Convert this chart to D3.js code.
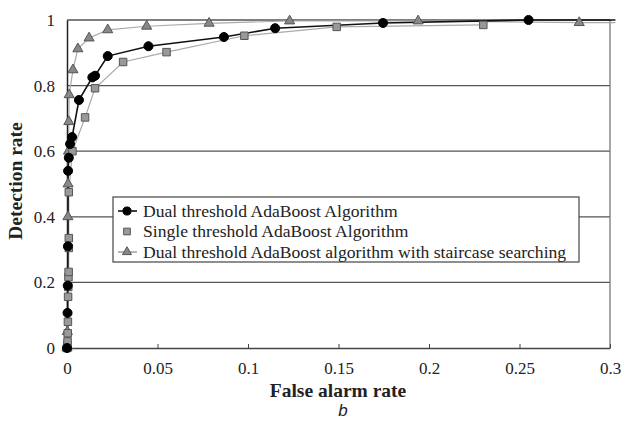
<!DOCTYPE html>
<html>
<head>
<meta charset="utf-8">
<script src="https://cdn.jsdelivr.net/npm/d3@7"></script>
<style>
  body { margin: 0; background: #fff; }
  text { font-family: "Liberation Serif", "Times New Roman", serif; fill: #222; }
</style>
</head>
<body>
<div id="chart"></div>
<script>
// Chart data
var seriesNames = ["Dual threshold AdaBoost Algorithm",
                   "Single threshold AdaBoost Algorithm",
                   "Dual threshold AdaBoost algorithm with staircase searching"];

var dualX = [0, 0.0003, 0.0004, 0.0005, 0.0006, 0.001, 0.0017, 0.0028, 0.0066, 0.014, 0.0155, 0.0225, 0.045, 0.0867, 0.115, 0.1746, 0.255, 0.303];
var dualY = [0, 0.107, 0.19, 0.31, 0.54, 0.58, 0.622, 0.643, 0.756, 0.825, 0.83, 0.89, 0.92, 0.948, 0.975, 0.991, 1.0, 1.0];

var singleX = [0, 0.0002, 0.0003, 0.0004, 0.0005, 0.0006, 0.0007, 0.0008, 0.0009, 0.001, 0.001, 0.001, 0.003, 0.01, 0.0155, 0.031, 0.055, 0.098, 0.149, 0.230];
var singleY = [0, 0.01, 0.02, 0.045, 0.08, 0.156, 0.186, 0.216, 0.232, 0.305, 0.335, 0.475, 0.6, 0.703, 0.792, 0.872, 0.902, 0.952, 0.979, 0.985];

var stairX = [0, 0.0002, 0.0005, 0.0006, 0.0008, 0.001, 0.0012, 0.0033, 0.006, 0.0122, 0.0225, 0.044, 0.0785, 0.123, 0.194, 0.283, 0.303];
var stairY = [0, 0.05, 0.4, 0.5, 0.6, 0.69, 0.772, 0.848, 0.912, 0.945, 0.97, 0.981, 0.99, 0.997, 0.997, 0.992, 0.992];

var xTicks = [0, 0.05, 0.1, 0.15, 0.2, 0.25, 0.3];
var yTicks = [0, 0.2, 0.4, 0.6, 0.8, 1];

var width = 626, height = 421;
var plot = { left: 67, right: 610, top: 20, bottom: 348 };

var svg = d3.select("#chart").append("svg")
    .attr("width", width)
    .attr("height", height);

var x = d3.scaleLinear().domain([0, 0.3]).range([plot.left, plot.right]);
var y = d3.scaleLinear().domain([0, 1]).range([plot.bottom, plot.top]);
var fmt = d => String(+d.toFixed(2));

// Gridlines
svg.append("g").selectAll("line")
    .data(yTicks.filter(d => d > 0))
    .enter().append("line")
    .attr("x1", plot.left).attr("x2", plot.right)
    .attr("y1", d => y(d)).attr("y2", d => y(d))
    .style("stroke", "#555")
    .style("stroke-width", 1.3);

// Right border of plot area
svg.append("line")
    .attr("x1", plot.right).attr("x2", plot.right)
    .attr("y1", plot.top).attr("y2", plot.bottom)
    .style("stroke", "#777").style("stroke-width", 1.3);

// X axis
var xAxis = svg.append("g")
    .attr("transform", "translate(0," + plot.bottom + ")")
    .call(d3.axisBottom(x).tickValues(xTicks).tickSizeInner(-4).tickSizeOuter(0).tickPadding(12).tickFormat(fmt));
xAxis.select(".domain").style("stroke", "#444").style("stroke-width", 1.3);
xAxis.selectAll(".tick line").style("stroke", "#444");
xAxis.selectAll("text").style("font-size", "17px").attr("dy", "0.85em");

// Y axis
var yAxis = svg.append("g")
    .attr("transform", "translate(" + plot.left + ",0)")
    .call(d3.axisLeft(y).tickValues(yTicks).tickSize(0).tickPadding(12).tickFormat(fmt));
yAxis.select(".domain").style("stroke", "#222").style("stroke-width", 1.5);
yAxis.selectAll("text").style("font-size", "17px");

// Axis titles
svg.append("text")
    .attr("x", 338)
    .attr("y", 397)
    .attr("text-anchor", "middle")
    .style("font-size", "19.5px")
    .style("font-weight", "bold")
    .text("False alarm rate");

svg.append("text")
    .attr("transform", "translate(22,181) rotate(-90)")
    .attr("text-anchor", "middle")
    .style("font-size", "19.5px")
    .style("font-weight", "bold")
    .text("Detection rate");

svg.append("text")
    .attr("x", 343)
    .attr("y", 416)
    .attr("text-anchor", "middle")
    .style("font-family", "'Liberation Sans', Arial, sans-serif")
    .style("font-style", "italic")
    .style("font-size", "17px")
    .text("b");

// Series
var zip = (xs, ys) => xs.map((v, i) => ({ x: v, y: ys[i] }));
var series = [
    { data: zip(dualX, dualY), line: "#111", lw: 1.6, shape: "circle", fill: "#000", stroke: "#000" },
    { data: zip(singleX, singleY), line: "#aaa", lw: 1.2, shape: "square", fill: "#999", stroke: "#555" },
    { data: zip(stairX, stairY), line: "#aaa", lw: 1.2, shape: "triangle", fill: "#888", stroke: "#555" }
];

var lineGen = d3.line().x(d => x(d.x)).y(d => y(d.y));
var symbolOf = { circle: d3.symbolCircle, square: d3.symbolSquare, triangle: d3.symbolTriangle };
var sizeOf = { circle: 64, square: 56, triangle: 44 };

// Draw lines first (staircase and single beneath dual)
[2, 1, 0].forEach(function(i) {
    var s = series[i];
    svg.append("path")
        .datum(s.data)
        .attr("d", lineGen)
        .style("fill", "none")
        .style("stroke", s.line)
        .style("stroke-width", s.lw);
});

[2, 1, 0].forEach(function(i) {
    var s = series[i];
    svg.append("g").selectAll("path")
        .data(s.data.filter(d => d.x <= 0.3))
        .enter().append("path")
        .attr("transform", d => "translate(" + x(d.x) + "," + y(d.y) + ")")
        .attr("d", d3.symbol().type(symbolOf[s.shape]).size(sizeOf[s.shape]))
        .style("fill", s.fill)
        .style("stroke", s.stroke)
        .style("stroke-width", 1);
});

// Legend
var legend = svg.append("g").attr("transform", "translate(113,197)");
legend.append("rect")
    .attr("width", 466).attr("height", 65)
    .style("fill", "#fff")
    .style("stroke", "#444")
    .style("stroke-width", 1.2);

series.forEach(function(s, i) {
    var row = legend.append("g").attr("transform", "translate(0," + (14 + i * 20.5) + ")");
    if (s.shape !== "square") {
        row.append("line")
            .attr("x1", 5).attr("x2", 24)
            .style("stroke", s.shape === "circle" ? "#111" : "#888")
            .style("stroke-width", s.lw);
    }
    row.append("path")
        .attr("transform", "translate(14,0)")
        .attr("d", d3.symbol().type(symbolOf[s.shape]).size(sizeOf[s.shape] * 0.8))
        .style("fill", s.fill)
        .style("stroke", s.stroke);
    row.append("text")
        .attr("x", 30)
        .attr("dy", "0.33em")
        .style("font-size", "17.6px")
        .text(seriesNames[i]);
});
</script>
</body>
</html>
